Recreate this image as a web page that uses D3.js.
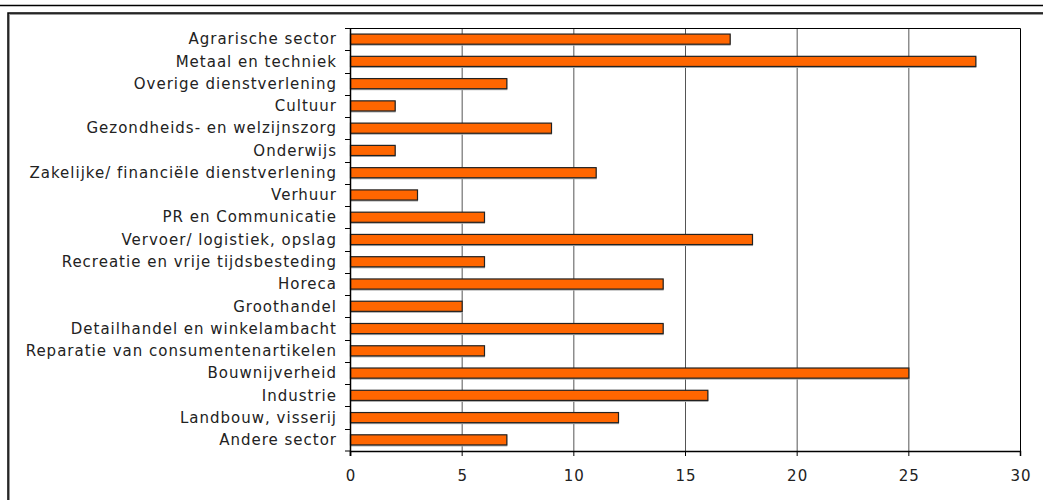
<!DOCTYPE html>
<html>
<head>
<meta charset="utf-8">
<script src="https://cdn.jsdelivr.net/npm/d3@7"></script>
<style>
  body { margin: 0; background: #fff; }
  svg { display: block; }
  .label text, .xaxis text { font-family: "DejaVu Sans", Verdana, sans-serif; font-size: 15px; letter-spacing: 1px; fill: #222; }
</style>
</head>
<body>
<div id="chart"></div>
<script>
// sectors, top to bottom
const sectors = [
  "Agrarische sector",
  "Metaal en techniek",
  "Overige dienstverlening",
  "Cultuur",
  "Gezondheids- en welzijnszorg",
  "Onderwijs",
  "Zakelijke/ financiële dienstverlening",
  "Verhuur",
  "PR en Communicatie",
  "Vervoer/ logistiek, opslag",
  "Recreatie en vrije tijdsbesteding",
  "Horeca",
  "Groothandel",
  "Detailhandel en winkelambacht",
  "Reparatie van consumentenartikelen",
  "Bouwnijverheid",
  "Industrie",
  "Landbouw, visserij",
  "Andere sector"
];
const counts = [17, 28, 7, 2, 9, 2, 11, 3, 6, 18, 6, 14, 5, 14, 6, 25, 16, 12, 7];
const xTicks = [0, 5, 10, 15, 20, 25, 30];

const W = 1043, H = 500;
const plot = { left: 350, right: 1020, top: 28, bottom: 451 };

const svg = d3.select("#chart").append("svg")
  .attr("width", W).attr("height", H);

// page rule + outer frame
svg.append("line")
  .attr("x1", 0).attr("x2", W).attr("y1", 5.5).attr("y2", 5.5)
  .attr("stroke", "#000").attr("stroke-width", 1.5);
svg.append("rect")
  .attr("x", 9).attr("y", 14).attr("width", W + 20).attr("height", H)
  .attr("fill", "none").attr("stroke", "#999").attr("stroke-width", 2);
svg.append("rect")
  .attr("x", 8).attr("y", 13).attr("width", W + 20).attr("height", H)
  .attr("fill", "none").attr("stroke", "#000").attr("stroke-width", 1.5);

const x = d3.scaleLinear().domain([0, 30]).range([plot.left, plot.right]);
const y = d3.scaleBand().domain(sectors).range([plot.top, plot.bottom]).paddingInner(0.5).paddingOuter(0.25);
const band = d3.scaleBand().domain(sectors).range([plot.top, plot.bottom]);

// gridlines
svg.append("g")
  .selectAll("line")
  .data(xTicks.slice(1, -1))
  .join("line")
  .attr("x1", d => x(d) + 0.5).attr("x2", d => x(d) + 0.5)
  .attr("y1", plot.top).attr("y2", plot.bottom)
  .attr("stroke", "#555").attr("stroke-width", 1);

// plot border (top, right)
svg.append("path")
  .attr("d", `M${plot.left},${plot.top + 0.5}H${plot.right + 0.5}V${plot.bottom}`)
  .attr("fill", "none").attr("stroke", "#000").attr("stroke-width", 1);

// bar shadows
svg.append("g")
  .selectAll("rect")
  .data(counts)
  .join("rect")
  .attr("x", x(0) + 1)
  .attr("y", (d, i) => y(sectors[i]) + 1)
  .attr("width", d => x(d) - x(0))
  .attr("height", y.bandwidth())
  .attr("fill", "#aaa");

// bars
svg.append("g")
  .selectAll("rect")
  .data(counts)
  .join("rect")
  .attr("x", x(0) + 0.5)
  .attr("y", (d, i) => y(sectors[i]) + 0.5)
  .attr("width", d => x(d) - x(0))
  .attr("height", y.bandwidth() - 1)
  .attr("fill", "#ff6600")
  .attr("stroke", "#222").attr("stroke-width", 1.2);

// x axis
const xAxis = svg.append("g")
  .attr("class", "xaxis")
  .attr("transform", `translate(0, ${plot.bottom})`)
  .call(d3.axisBottom(x).tickValues(xTicks).tickSize(5).tickPadding(14));
xAxis.attr("font-family", null).attr("font-size", null);
xAxis.select(".domain").attr("stroke", "#000").attr("stroke-width", 1.5);
xAxis.selectAll(".tick line").attr("stroke", "#000");
xAxis.selectAll("text").attr("fill", null).attr("dx", "0.5px");

// y axis: ticks at band boundaries
const yAxis = svg.append("g").attr("class", "label");
yAxis.append("line")
  .attr("x1", plot.left + 0.5).attr("x2", plot.left + 0.5)
  .attr("y1", plot.top).attr("y2", plot.bottom + 5)
  .attr("stroke", "#000").attr("stroke-width", 1.5);
yAxis.selectAll(".ytick")
  .data(sectors.concat(["end"]))
  .join("line")
  .attr("class", "ytick")
  .attr("x1", plot.left - 5).attr("x2", plot.left)
  .attr("y1", (d, i) => i < sectors.length ? Math.round(band(d)) + 0.5 : plot.bottom)
  .attr("y2", (d, i) => i < sectors.length ? Math.round(band(d)) + 0.5 : plot.bottom)
  .attr("stroke", "#000");
yAxis.selectAll("text")
  .data(sectors)
  .join("text")
  .attr("x", plot.left - 13)
  .attr("y", d => band(d) + band.bandwidth() / 2)
  .attr("dy", "0.35em")
  .attr("text-anchor", "end")
  .text(d => d);
</script>
</body>
</html>
